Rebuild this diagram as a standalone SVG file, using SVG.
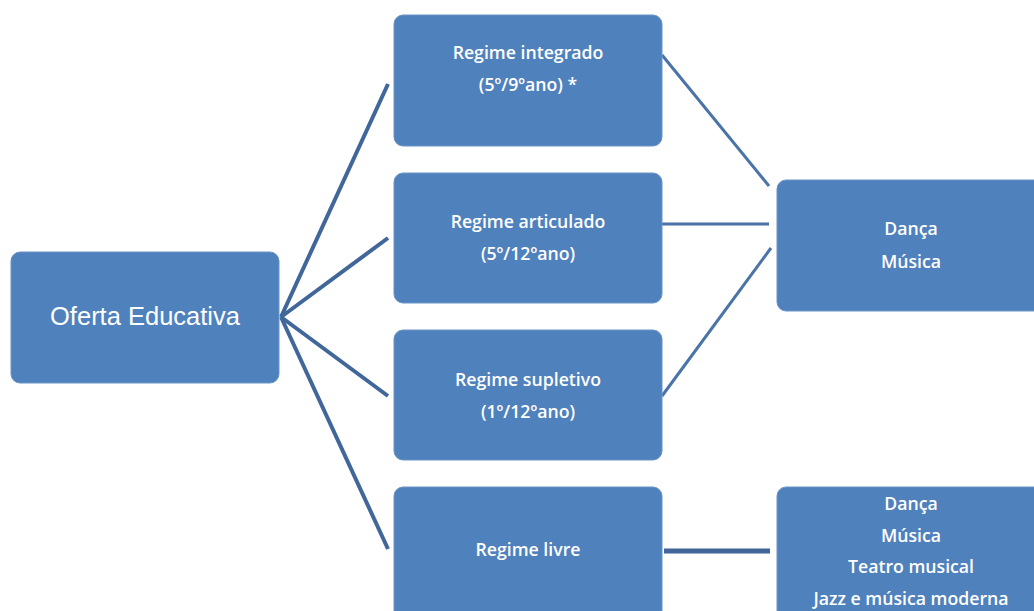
<svg xmlns="http://www.w3.org/2000/svg" width="1034" height="611" viewBox="0 0 1034 611">
<style>
.box{fill:#4f81bd;stroke:#6b93c6;stroke-width:1}
.t{font-family:"Open Sans","Noto Sans",sans-serif;font-size:17.7px;font-weight:600;fill:#ffffff;text-anchor:middle}
.big{font-family:"Liberation Sans",Arial,sans-serif;font-size:25.5px;fill:#ffffff;text-anchor:middle}
.c{stroke:#41679a;stroke-width:4;fill:none}
.c2{stroke:#4a73a8;stroke-width:3;fill:none}
</style>
<rect width="1034" height="611" fill="#ffffff"/>
<g id="connectors">
<path class="c" d="M281 317 L388 84"/>
<path class="c" d="M281 317 L388 238"/>
<path class="c" d="M281 317 L388 396"/>
<path class="c" d="M281 317 L388 549"/>
<path class="c2" d="M662 55 L769 186"/>
<path class="c2" d="M662 224 L769 224"/>
<path class="c2" d="M662 396 L771 248"/>
<path class="c" d="M664 551 L770 551" style="stroke-width:5"/>
</g>
<g id="oferta"><rect class="box" x="11" y="252" width="268" height="131" rx="9"/><text class="big" x="145" y="325">Oferta Educativa</text></g>
<g id="integrado"><rect class="box" x="394" y="15" width="268" height="131" rx="9"/><text class="t" x="528" y="59">Regime integrado</text><text class="t" x="528" y="91">(5º/9ºano) *</text></g>
<g id="articulado"><rect class="box" x="394" y="173" width="268" height="130" rx="9"/><text class="t" x="528" y="228">Regime articulado</text><text class="t" x="528" y="260">(5º/12ºano)</text></g>
<g id="supletivo"><rect class="box" x="394" y="330" width="268" height="130" rx="9"/><text class="t" x="528" y="386">Regime supletivo</text><text class="t" x="528" y="418">(1º/12ºano)</text></g>
<g id="livre"><rect class="box" x="394" y="487" width="268" height="140" rx="9"/><text class="t" x="528" y="556">Regime livre</text></g>
<g id="danca-musica"><rect class="box" x="777" y="180" width="268" height="131" rx="9"/><text class="t" x="911" y="235">Dança</text><text class="t" x="911" y="268">Música</text></g>
<g id="livre-areas"><rect class="box" x="777" y="487" width="268" height="140" rx="9"/><text class="t" x="911" y="510">Dança</text><text class="t" x="911" y="542">Música</text><text class="t" x="911" y="573">Teatro musical</text><text class="t" x="911" y="605">Jazz e música moderna</text></g>
</svg>
